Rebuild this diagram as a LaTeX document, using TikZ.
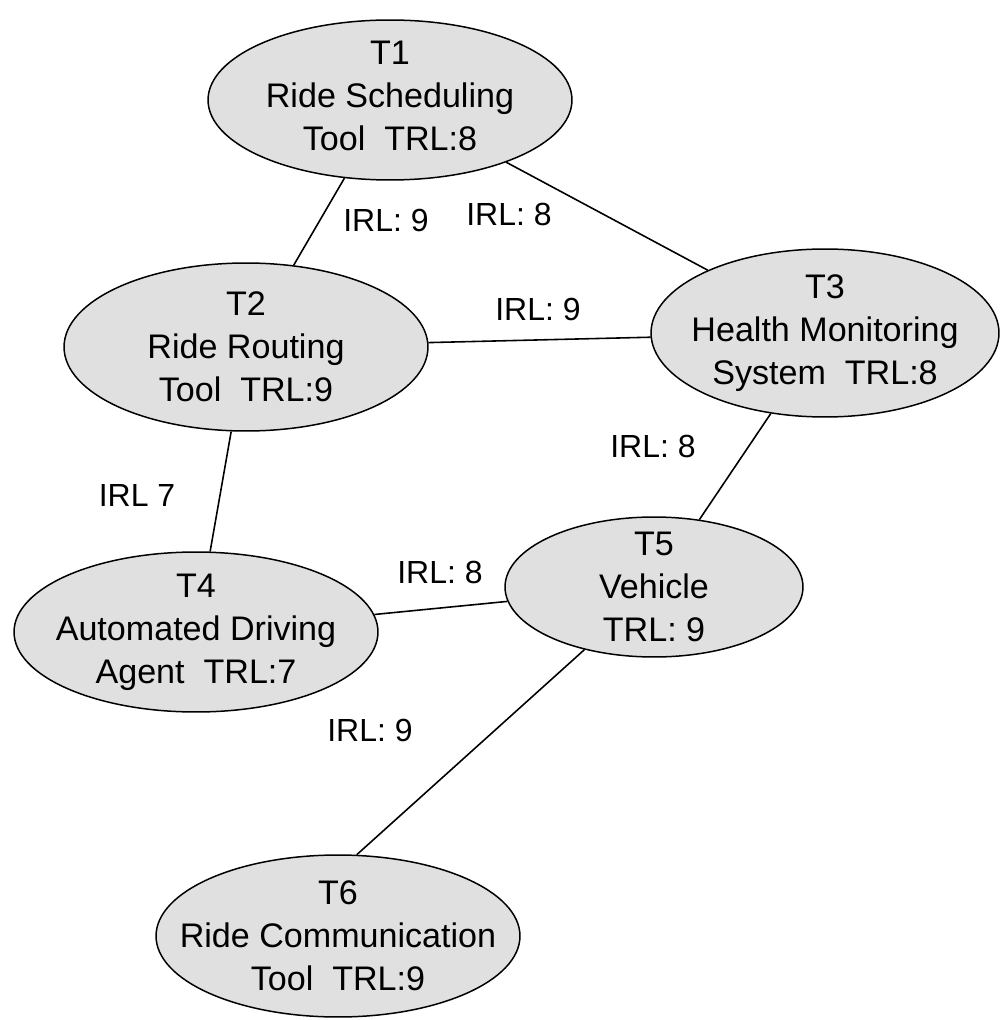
\documentclass[tikz,border=0pt]{standalone}
\usepackage{fontspec}
\setmainfont{Liberation Sans}
\usetikzlibrary{shapes.geometric}
\definecolor{toolgray}{HTML}{E0E0E0}

\begin{document}
\begin{tikzpicture}[x=0.02cm,y=-0.02cm,
        tool/.style={ellipse,draw,line width=0.85pt,fill=toolgray,inner sep=0pt},
        tooltext/.style={align=center,inner sep=0pt,font=\fontsize{19.4}{24.5}\selectfont},
        irl/.style={inner sep=0pt,font=\fontsize{18.2}{22}\selectfont},
        link/.style={line width=0.9pt}]

                \useasboundingbox (0,0) rectangle (1000,1020);

                \node [tool,minimum width=7.28cm,minimum height=3.2cm] (t1) at (390,100) {};
                \node [tool,minimum width=7.28cm,minimum height=3.36cm] (t2) at (246,347) {};
                \node [tool,minimum width=6.96cm,minimum height=3.36cm] (t3) at (825,333) {};
                \node [tool,minimum width=7.28cm,minimum height=3.2cm] (t4) at (196,632) {};
                \node [tool,minimum width=5.96cm,minimum height=2.8cm] (t5) at (654,587) {};
                \node [tool,minimum width=7.28cm,minimum height=3.24cm] (t6) at (338,936) {};

                \node [tooltext,yshift=0.08cm] (t1text) at (t1) {T1\\Ride Scheduling\\Tool\ \ TRL:8};
                \node [tooltext] (t2text) at (t2) {T2\\Ride Routing\\Tool\ \ TRL:9};
                \node [tooltext] (t3text) at (t3) {T3\\Health Monitoring\\System\ \ TRL:8};
                \node [tooltext] (t4text) at (t4) {T4\\Automated Driving\\Agent\ \ TRL:7};
                \node [tooltext] (t5text) at (t5) {T5\\Vehicle\\TRL: 9};
                \node [tooltext] (t6text) at (t6) {T6\\Ride Communication\\Tool\ \ TRL:9};

                \draw [link] (t1)--(t2);
                \draw [link] (t1)--(t3);
                \draw [link] (t2)--(t3);
                \draw [link] (t2)--(t4);
                \draw [link] (t3)--(t5);
                \draw [link] (t4)--(t5);
                \draw [link] (t5)--(t6.77);

                \node [irl] (irl12) at (386,220) {IRL: 9};
                \node [irl] (irl13) at (509,214) {IRL: 8};
                \node [irl] (irl23) at (538,309) {IRL: 9};
                \node [irl] (irl35) at (653,446) {IRL: 8};
                \node [irl] (irl24) at (137,495) {IRL 7};
                \node [irl] (irl45) at (440,572) {IRL: 8};
                \node [irl] (irl56) at (370,730) {IRL: 9};
            \end{tikzpicture}
\end{document}
